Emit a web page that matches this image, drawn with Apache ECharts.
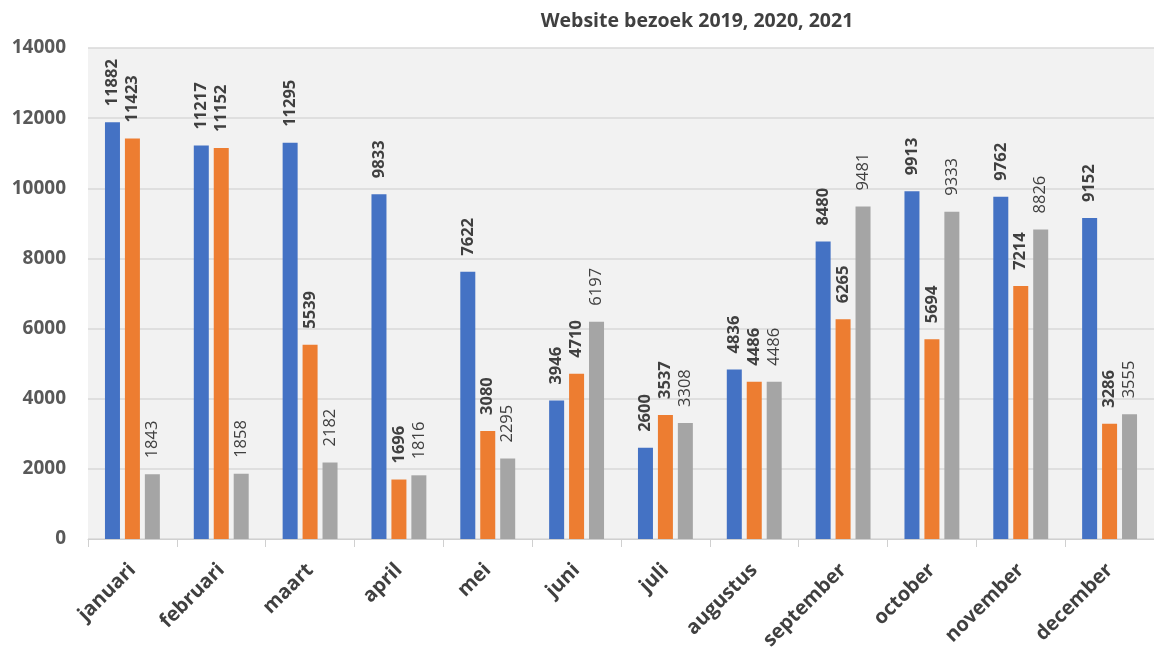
<!DOCTYPE html>
<html>
<head>
<meta charset="utf-8">
<script src="https://cdn.jsdelivr.net/npm/echarts@6/dist/echarts.min.js"></script>
<style>html,body{margin:0;padding:0;background:#fff;}#c{width:1154px;height:655px;}</style>
</head>
<body>
<div id="c"></div>
<script>
const categories = ['januari','februari','maart','april','mei','juni','juli','augustus','september','october','november','december'];
const values2019 = [11882, 11217, 11295, 9833, 7622, 3946, 2600, 4836, 8480, 9913, 9762, 9152];
const values2020 = [11423, 11152, 5539, 1696, 3080, 4710, 3537, 4486, 6265, 5694, 7214, 3286];
const values2021 = [1843, 1858, 2182, 1816, 2295, 6197, 3308, 4486, 9481, 9333, 8826, 3555];
const yTicks = [0, 2000, 4000, 6000, 8000, 10000, 12000, 14000];

const FONT = '"Open Sans", Lato, sans-serif';
function labelCfg(bold) {
  return {
    show: true, position: 'top', rotate: 90, align: 'left', verticalAlign: 'middle',
    distance: 16, color: '#404040', fontFamily: FONT, fontSize: 16.5,
    fontWeight: bold ? 'bold' : 'normal'
  };
}
const chart = echarts.init(document.getElementById('c'));
chart.setOption({
  animation: false,
  title: {
    text: 'Website bezoek 2019, 2020, 2021', left: 692, top: 6, textAlign: 'center',
    textStyle: { fontFamily: FONT, fontSize: 19.5, fontWeight: 'bold', color: '#404040' }
  },
  grid: { left: 88, top: 48, width: 1072, height: 491, show: true, backgroundColor: '#f2f2f2', borderWidth: 0 },
  xAxis: {
    type: 'category', data: categories,
    axisLine: { lineStyle: { color: '#d0d0d0', width: 1 } },
    axisTick: { show: true, length: 8, lineStyle: { color: '#d0d0d0' } },
    axisLabel: { rotate: 45, margin: 28, color: '#404040', fontFamily: FONT, fontSize: 20, fontWeight: 'bold' }
  },
  yAxis: {
    type: 'value', min: yTicks[0], max: yTicks[yTicks.length - 1], interval: 2000,
    axisLine: { show: false }, axisTick: { show: false },
    splitLine: { lineStyle: { color: '#d9d9d9', width: 1.5 } },
    axisLabel: { margin: 22, color: '#595959', fontFamily: FONT, fontSize: 19, fontWeight: 'bold',
      formatter: v => String(v) }
  },
  series: [
    { name: '2019', type: 'bar', data: values2019, barWidth: 15, barGap: '33%', itemStyle: { color: '#4472C4' }, label: labelCfg(true) },
    { name: '2020', type: 'bar', data: values2020, barWidth: 15, barGap: '33%', itemStyle: { color: '#ED7D31' }, label: labelCfg(true) },
    { name: '2021', type: 'bar', data: values2021, barWidth: 15, barGap: '33%', itemStyle: { color: '#A5A5A5' }, label: labelCfg(false) }
  ]
});
</script>
</body>
</html>
